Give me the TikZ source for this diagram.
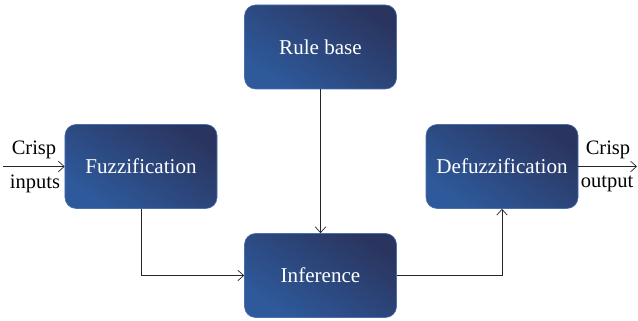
\documentclass[tikz,border=0pt]{standalone}
\usepackage{fontspec}
\setmainfont{Liberation Serif}
\usetikzlibrary{arrows.meta}
\definecolor{boxLight}{HTML}{2E5A9C}
\definecolor{boxDark}{HTML}{2A355F}
\definecolor{boxRim}{HTML}{4A6FAE}
\tikzstyle{blockStyle}=[shape = rectangle, rounded corners = 0.33cm, minimum width = 4.56cm, minimum height = 2.52cm, draw = boxRim, line width = 0.5pt, left color = boxLight, right color = boxDark, shading angle = 145, text = white, font = \fontsize{18}{21}\selectfont]
\tikzstyle{labelStyle}=[font = \fontsize{17.5}{20}\selectfont, inner sep = 0pt]

\begin{document}
\begin{tikzpicture}[x = 0.03cm, y = -0.03cm]
\tikzstyle{flowStyle} = [draw = black!85, line width = 0.6pt, -{Straight Barb[length=5pt, width=9pt]}]
\useasboundingbox (0,0) rectangle (638,321);
% blocks
\node[blockStyle] (rule) at (320.5, 47) {Rule base};
\node[blockStyle] (fuzz) at (141, 166.5) {Fuzzification};
\node[blockStyle] (defuzz) at (502, 166.5) {Defuzzification};
\node[blockStyle] (infer) at (320.5, 275.5) {Inference};
% outer ends
\coordinate (crispIn) at (3, 166.5);
\coordinate (crispOut) at (637, 166.5);
\node[labelStyle] (inTop) at (34, 150) {Crisp};
\node[labelStyle] (inBot) at (35, 184) {inputs};
\node[labelStyle] (outTop) at (608, 150) {Crisp};
\node[labelStyle] (outBot) at (607, 184) {output};
% connectors
\draw[flowStyle] (crispIn) -- (fuzz.west);
\draw[flowStyle] (defuzz.east) -- (crispOut);
\draw[flowStyle] (rule.south) -- (infer.north);
\draw[flowStyle] (fuzz.south) |- (infer.west);
\draw[flowStyle] (infer.east) -| (defuzz.south);
\end{tikzpicture}
\end{document}
